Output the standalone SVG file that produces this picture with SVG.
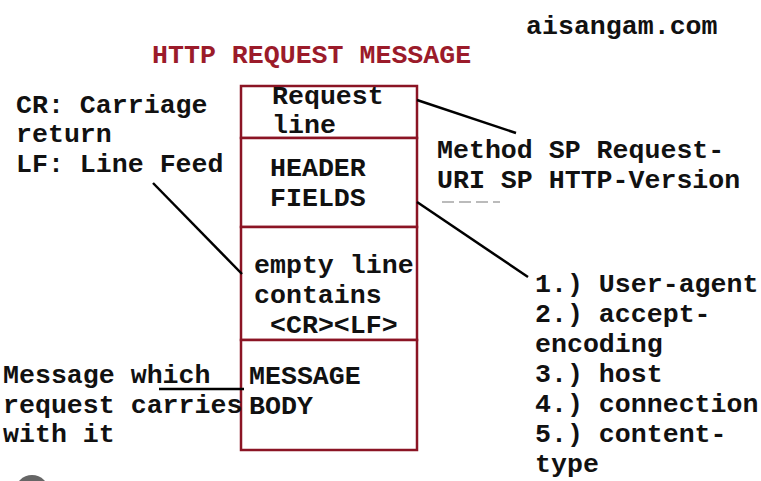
<svg xmlns="http://www.w3.org/2000/svg" width="761" height="481" viewBox="0 0 761 481">
<style>
.t{font-family:"Liberation Mono","Courier New",monospace;font-weight:bold;font-size:26.6px;fill:#111}
.r{fill:#9b1b2a}
.box{fill:#fff;stroke:#8b1424;stroke-width:2.5}
.ln{stroke:#000;stroke-width:2.5;fill:none}
</style>
<rect width="761" height="481" fill="#fff"/>
<text class="t" x="526" y="34">aisangam.com</text>
<text class="t r" x="152" y="63">HTTP REQUEST MESSAGE</text>
<g id="legend">
<text class="t" x="16" y="113">CR: Carriage</text>
<text class="t" x="16" y="142">return</text>
<text class="t" x="16" y="172">LF: Line Feed</text>
</g>
<g id="request-line">
<rect class="box" x="241" y="86" width="176" height="52"/>
<text class="t" x="272" y="104">Request</text>
<text class="t" x="272" y="133">line</text>
</g>
<g id="header-fields">
<rect class="box" x="241" y="138" width="176" height="89"/>
<text class="t" x="270" y="176">HEADER</text>
<text class="t" x="270" y="206">FIELDS</text>
</g>
<g id="empty-line">
<rect class="box" x="241" y="227" width="176" height="113"/>
<text class="t" x="254" y="273">empty line</text>
<text class="t" x="254" y="303">contains</text>
<text class="t" x="270" y="333">&lt;CR&gt;&lt;LF&gt;</text>
</g>
<g id="message-body">
<rect class="box" x="241" y="340" width="176" height="110"/>
<text class="t" x="249" y="384">MESSAGE</text>
<text class="t" x="249" y="414">BODY</text>
</g>
<g id="request-line-desc">
<text class="t" x="437" y="158">Method SP Request-</text>
<text class="t" x="437" y="188">URI SP HTTP-Version</text>
<line x1="442" y1="202" x2="500" y2="202" stroke="#bbb" stroke-width="2" stroke-dasharray="12,5"/>
</g>
<g id="header-list">
<text class="t" x="535" y="292">1.) User-agent</text>
<text class="t" x="535" y="322">2.) accept-</text>
<text class="t" x="535" y="352">encoding</text>
<text class="t" x="535" y="382">3.) host</text>
<text class="t" x="535" y="412">4.) connection</text>
<text class="t" x="535" y="442">5.) content-</text>
<text class="t" x="535" y="472">type</text>
</g>
<g id="body-desc">
<text class="t" x="3" y="383">Message which</text>
<text class="t" x="3" y="413">request carries</text>
<text class="t" x="3" y="442">with it</text>
</g>
<g id="connectors">
<line class="ln" x1="417" y1="100" x2="516" y2="133"/>
<line class="ln" x1="417" y1="202" x2="528" y2="277"/>
<line class="ln" x1="153" y1="183" x2="242" y2="274"/>
<line class="ln" x1="159" y1="389" x2="244" y2="389"/>
</g>
<circle cx="32" cy="492" r="17" fill="#666"/>
</svg>
